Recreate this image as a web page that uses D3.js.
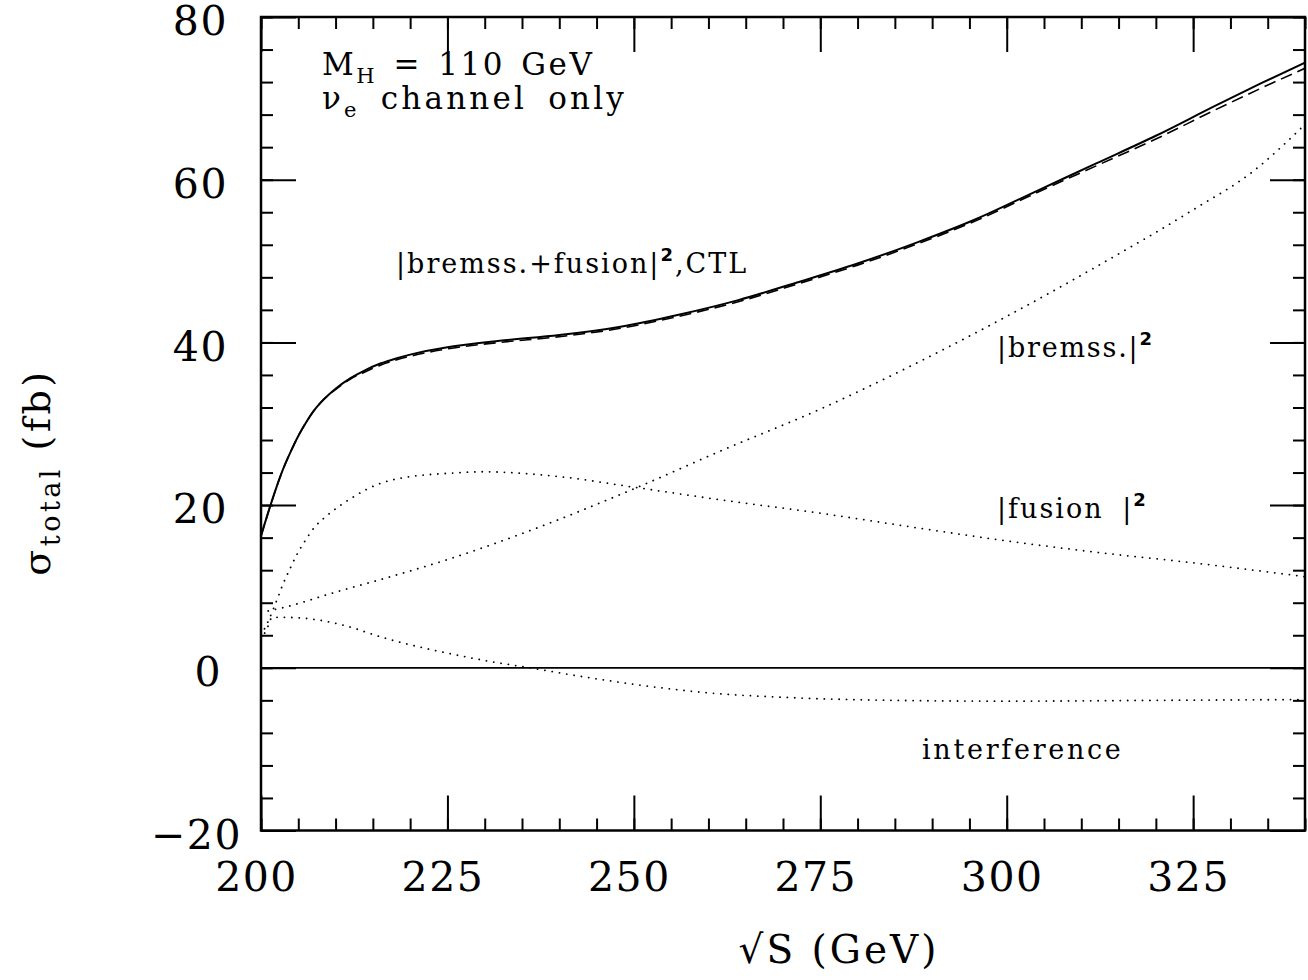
<!DOCTYPE html>
<html><head><meta charset="utf-8">
<script src="https://cdn.jsdelivr.net/npm/d3@7"></script>
<style>body{margin:0;background:#fff}svg{display:block}text{font-family:"DejaVu Serif",serif;fill:#000}</style>
</head><body><svg id="c" width="1308" height="980"></svg>
<script>
// ---- data ----
const totalS   = [200,201,202,203,204,205,206,207,208,209,210,212,214,216,218,220,225,232,240,248,256,264,272,280,288,296,304,312,320,328,334,340];
const totalVal = [16.2,19.2,22.0,24.5,26.6,28.5,30.1,31.5,32.6,33.5,34.3,35.6,36.6,37.4,38.0,38.5,39.4,40.2,40.9,41.9,43.4,45.2,47.4,49.7,52.3,55.2,58.6,62.0,65.4,69.1,71.8,74.4];
const ctlVal   = [16.2,19.2,22.0,24.5,26.6,28.5,30.1,31.5,32.6,33.5,34.2,35.5,36.4,37.2,37.8,38.3,39.2,40.0,40.7,41.7,43.2,45.0,47.2,49.5,52.1,55.0,58.4,61.7,65.0,68.6,71.2,73.7];
const bremS    = [200,203,210,218.5,225,235,250,262,275,288,300,312,325,333,340];
const bremVal  = [6.8,7.4,9.3,11.5,13.3,16.5,22.0,26.8,31.8,37.5,43.2,49.3,56.3,61.0,66.8];
const fusS     = [200,201,202.2,203,203.9,204.8,205.9,207.2,208.7,210.4,212.2,214.1,216.1,218.1,220,225,230,235,240,250,262,275,288,300,312,325,340];
const fusVal   = [4.0,5.8,8.5,10.4,12.2,13.9,15.6,17.3,18.6,19.8,20.9,21.9,22.7,23.2,23.5,23.9,24.1,23.9,23.5,22.2,20.6,19.0,17.2,15.6,14.2,12.9,11.2];
const intS     = [200,200.8,201.5,203.2,207.5,211.6,215.7,218.8,222,225,230,236,246,259,272,285,300,320,340];
const intVal   = [3.5,4.8,6.2,6.2,5.9,5.1,3.9,3.1,2.4,1.8,0.9,0.0,-1.5,-3.0,-3.7,-4.0,-4.1,-4.0,-3.9];
const xMajor = [200,225,250,275,300,325];
const xMinor = d3.range(200,341,5);
const yMajor = [-20,0,20,40,60,80];
const yMinor = d3.range(-20,81,4);

const svg = d3.select("#c");
const x = d3.scaleLinear([200,340],[261,1305]);
const y = d3.scaleLinear([-20,80],[830.5,17]);

function ax(gen, tx, ty, vals, size, labels, pad){
  const a = gen.tickValues(vals).tickSize(-size).tickPadding(pad||0);
  if(!labels) a.tickFormat("");
  else a.tickFormat(d => d<0 ? "\u2212"+Math.abs(d) : d);
  const g = svg.append("g").attr("transform",`translate(${tx},${ty})`).call(a);
  g.select(".domain").remove();
  g.selectAll(".tick line").attr("stroke","#000").attr("stroke-width",2);
  return g;
}
// bottom
const gb = ax(d3.axisBottom(x), 0, 830.5, xMajor, 35, true, 31);
gb.selectAll("text").attr("font-size",41).attr("font-family","DejaVu Serif").attr("letter-spacing",1.5).attr("dx",-5).attr("dy","0.71em");
ax(d3.axisBottom(x), 0, 830.5, xMinor, 12, false);
// top
ax(d3.axisTop(x), 0, 17, xMajor, 35, false);
ax(d3.axisTop(x), 0, 17, xMinor, 12, false);
// left
const gl = ax(d3.axisLeft(y), 261, 0, yMajor, 35, true, 33);
gl.selectAll("text").attr("font-size",41).attr("font-family","DejaVu Serif").attr("letter-spacing",1.5)
  .attr("dx", d => d===0 ? -6 : d===-20 ? 14 : 0).attr("dy","0.43em");
ax(d3.axisLeft(y), 261, 0, yMinor, 12, false);
// right
ax(d3.axisRight(y), 1305, 0, yMajor, 35, false);
ax(d3.axisRight(y), 1305, 0, yMinor, 12, false);

// frame
svg.append("rect").attr("x",261).attr("y",17).attr("width",1305-261).attr("height",830.5-17)
  .attr("fill","none").attr("stroke","#000").attr("stroke-width",2.5);

// zero line
svg.append("line").attr("x1",x(200)).attr("x2",x(340)).attr("y1",y(0)).attr("y2",y(0))
  .attr("stroke","#000").attr("stroke-width",1.8);

const line = d3.line().x(d=>x(d[0])).y(d=>y(d[1])).curve(d3.curveMonotoneX);
const zip = (a,b) => a.map((v,i)=>[v,b[i]]);
svg.append("clipPath").attr("id","pc").append("rect").attr("x",261).attr("y",17).attr("width",1044).attr("height",813.5);
const plot = svg.append("g").attr("clip-path","url(#pc)");

plot.append("path").attr("d",line(zip(totalS,ctlVal))).attr("fill","none").attr("stroke","#000")
  .attr("stroke-width",1.6).attr("stroke-dasharray","12,6");
plot.append("path").attr("d",line(zip(totalS,totalVal))).attr("fill","none").attr("stroke","#000").attr("stroke-width",2);
[[bremS,bremVal],[fusS,fusVal],[intS,intVal]].forEach(([s,v])=>{
  plot.append("path").attr("d",line(zip(s,v))).attr("fill","none").attr("stroke","#000")
    .attr("stroke-width",1.8).attr("stroke-linecap","round").attr("stroke-dasharray","0.1,7.3");
});

// annotations
function txt(xp,yp,size,ls,ws){ return svg.append("text").attr("x",xp).attr("y",yp).attr("font-size",size)
  .attr("letter-spacing",ls||0).attr("word-spacing",ws||0); }
function sup(t){ return t.append("tspan").attr("dy",-12).attr("font-size",18).attr("font-family","DejaVu Sans").attr("font-weight","bold").text("2"); }
let t = txt(322,75,31,2.5,4); t.append("tspan").text("M"); t.append("tspan").attr("dy",8).attr("font-size",21).text("H");
t.append("tspan").attr("dy",-8).text(" = 110 GeV");
t = txt(322,109,31,3.2,8); t.append("tspan").text("\u03BD"); t.append("tspan").attr("dy",8).attr("font-size",21).text("e");
t.append("tspan").attr("dy",-8).text(" channel only");

t = txt(396,273,27,2); t.append("tspan").text("|bremss.+fusion|"); sup(t);
t.append("tspan").attr("dy",12).text(",CTL");
t = txt(997,357,27,1.8); t.append("tspan").text("|bremss.|"); sup(t);
t = txt(997,518,27,2,8); t.append("tspan").text("|fusion |"); sup(t);
txt(922,759,27,2.7).text("interference");

// axis titles
txt(839,963,39,3).attr("text-anchor","middle").text("\u221AS (GeV)");
t = svg.append("text").attr("transform","translate(50,472) rotate(-90)").attr("text-anchor","middle")
  .attr("font-size",38).attr("letter-spacing",3.5);
t.append("tspan").text("\u03C3"); t.append("tspan").attr("dy",10).attr("font-size",27).text("total");
t.append("tspan").attr("dy",-10).text(" (fb)");
</script></body></html>
